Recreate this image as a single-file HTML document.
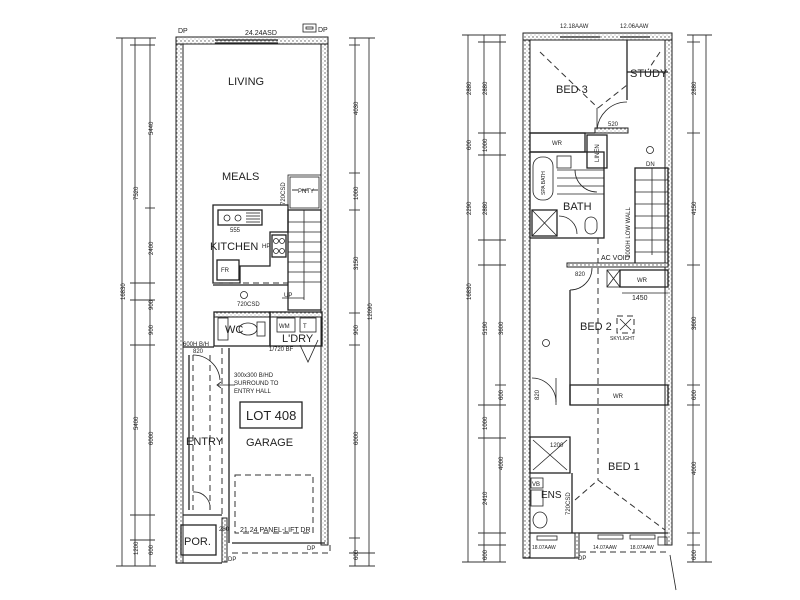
<!DOCTYPE html>
<html><head><meta charset="utf-8"><style>
html,body{margin:0;padding:0;background:#fff;}
svg{display:block;}
text{font-family:"Liberation Sans",sans-serif;fill:#222;}
.l{stroke:#222;stroke-width:1.3;fill:none;}
.t{stroke:#222;stroke-width:0.8;fill:none;}
.d{stroke:#333;stroke-width:1;fill:none;stroke-dasharray:6 4;}
.w{fill:#ddd;stroke:#222;stroke-width:1.2;}
.dim{stroke:#333;stroke-width:0.9;}
.s{font-size:6px;}
</style></head><body>
<svg width="800" height="600" viewBox="0 0 800 600" xmlns="http://www.w3.org/2000/svg">
<defs>
<pattern id="h" width="4" height="4" patternUnits="userSpaceOnUse">
<rect width="4" height="4" fill="#fff"/><circle cx="1" cy="1" r="0.7" fill="#555"/><circle cx="3" cy="3" r="0.5" fill="#888"/>
</pattern>
</defs>

<!-- ===== LEFT PLAN ===== -->
<!-- dimension lines -->
<g class="dim">
<line x1="122" y1="38" x2="122" y2="566"/><line x1="135" y1="38" x2="135" y2="566"/><line x1="150" y1="38" x2="150" y2="566"/>
<line x1="116" y1="38" x2="156" y2="38"/><line x1="116" y1="566" x2="156" y2="566"/>
<line x1="130" y1="45" x2="155" y2="45"/><line x1="145" y1="208" x2="155" y2="208"/>
<line x1="130" y1="283" x2="155" y2="283"/><line x1="130" y1="300" x2="155" y2="300"/><line x1="130" y1="345" x2="155" y2="345"/>
<line x1="130" y1="515" x2="155" y2="515"/><line x1="130" y1="540" x2="155" y2="540"/>
<line x1="355" y1="38" x2="355" y2="566"/><line x1="369" y1="38" x2="369" y2="566"/>
<line x1="349" y1="38" x2="375" y2="38"/><line x1="349" y1="566" x2="375" y2="566"/>
<line x1="349" y1="45" x2="360" y2="45"/><line x1="349" y1="173" x2="360" y2="173"/><line x1="349" y1="210" x2="360" y2="210"/>
<line x1="349" y1="313" x2="360" y2="313"/><line x1="349" y1="345" x2="360" y2="345"/><line x1="349" y1="538" x2="360" y2="538"/><line x1="349" y1="553" x2="375" y2="553"/>
</g>
<g font-size="6" fill="#333">
<text transform="translate(125,300) rotate(-90)">16830</text>
<text transform="translate(138,200) rotate(-90)">7520</text>
<text transform="translate(153,135) rotate(-90)">5440</text>
<text transform="translate(153,255) rotate(-90)">2400</text>
<text transform="translate(153,310) rotate(-90)">900</text>
<text transform="translate(153,335) rotate(-90)">900</text>
<text transform="translate(138,430) rotate(-90)">5400</text>
<text transform="translate(153,445) rotate(-90)">6000</text>
<text transform="translate(138,555) rotate(-90)">1200</text>
<text transform="translate(153,555) rotate(-90)">600</text>
<text transform="translate(358,115) rotate(-90)">4030</text>
<text transform="translate(358,200) rotate(-90)">1000</text>
<text transform="translate(358,270) rotate(-90)">3150</text>
<text transform="translate(372,320) rotate(-90)">12090</text>
<text transform="translate(358,335) rotate(-90)">900</text>
<text transform="translate(358,445) rotate(-90)">6000</text>
<text transform="translate(358,560) rotate(-90)">600</text>
</g>

<!-- walls -->
<rect x="176" y="37" width="7" height="526" fill="url(#h)" stroke="#222" stroke-width="1"/>
<rect x="321" y="37" width="7" height="508" fill="url(#h)" stroke="#222" stroke-width="1"/>
<rect x="176" y="37" width="152" height="7" fill="url(#h)" stroke="#222" stroke-width="1"/>
<line class="l" x1="215" y1="43" x2="278" y2="43"/><line class="l" x1="215" y1="40" x2="278" y2="40"/>
<rect x="303" y="24" width="13" height="8" class="t"/><rect x="306" y="27" width="7" height="2" class="t"/>
<text x="245" y="35" font-size="7">24.24ASD</text>
<text x="178" y="33" font-size="7">DP</text><text x="318" y="32" font-size="7">DP</text>
<!-- bottom -->
<line class="l" x1="176" y1="563" x2="222" y2="563"/>
<rect x="222" y="518" width="5" height="44" fill="url(#h)" stroke="#222"/>
<line class="l" x1="232" y1="543" x2="325" y2="543"/>
<line class="d" x1="232" y1="553" x2="330" y2="553"/><line class="d" x1="330" y1="545" x2="330" y2="553"/>
<text x="307" y="550" font-size="6">DP</text><text x="228" y="561" font-size="6">DP</text>

<!-- pantry -->
<rect x="288" y="175" width="33" height="35" class="t" fill="url(#h)"/>
<rect x="290" y="177" width="29" height="31" fill="#fff" class="t"/>
<line class="d" x1="292" y1="190" x2="318" y2="190"/>
<text x="298" y="193" font-size="6">PNTY</text>
<text transform="translate(285,205) rotate(-90)" font-size="6">720CSD</text>
<!-- kitchen -->
<path class="l" d="M213 205 H288 V232 H270 V266 H240 V283 H213 Z"/>
<rect x="218" y="210" width="44" height="15" class="l"/>
<circle cx="227" cy="218" r="3" class="t"/><circle cx="238" cy="218" r="3" class="t"/>
<g class="t"><line x1="246" y1="213" x2="260" y2="213"/><line x1="246" y1="216" x2="260" y2="216"/><line x1="246" y1="219" x2="260" y2="219"/><line x1="246" y1="222" x2="260" y2="222"/></g>
<text x="230" y="232" font-size="6">555</text>
<rect x="272" y="235" width="14" height="22" class="l"/>
<circle cx="276" cy="241" r="2.5" class="t"/><circle cx="282" cy="241" r="2.5" class="t"/><circle cx="276" cy="251" r="2.5" class="t"/><circle cx="282" cy="251" r="2.5" class="t"/>
<rect x="217" y="260" width="22" height="20" class="l"/><text x="221" y="272" font-size="6">FR</text>
<line class="d" x1="213" y1="283" x2="288" y2="283"/>
<line class="l" x1="213" y1="285" x2="288" y2="285"/>
<!-- stairs -->
<rect x="288" y="210" width="33" height="100" class="l"/>
<g class="t">
<line x1="288" y1="222" x2="321" y2="222"/><line x1="288" y1="232" x2="321" y2="232"/><line x1="288" y1="242" x2="321" y2="242"/>
<line x1="288" y1="252" x2="321" y2="252"/><line x1="288" y1="262" x2="321" y2="262"/><line x1="288" y1="272" x2="321" y2="272"/>
<line x1="288" y1="282" x2="321" y2="282"/><line x1="304" y1="210" x2="304" y2="300"/>
<line x1="282" y1="298" x2="304" y2="298"/>
</g>
<text x="284" y="297" font-size="6">UP</text>
<circle cx="244" cy="295" r="3.5" class="t"/>
<text x="237" y="306" font-size="6">720CSD</text>
<!-- WC / Laundry -->
<rect x="214" y="312" width="108" height="5" fill="url(#h)" stroke="#222"/>
<rect x="214" y="312" width="56" height="34" class="l"/>
<rect x="270" y="312" width="52" height="34" class="l"/>
<rect x="218" y="318" width="10" height="22" class="t"/>
<ellipse cx="248" cy="329" rx="9" ry="6" class="t"/><rect x="257" y="322" width="8" height="14" class="t"/>
<text x="225" y="333" font-size="11">WC</text>
<rect x="277" y="318" width="18" height="14" class="t"/><text x="279" y="328" font-size="6">WM</text>
<rect x="300" y="318" width="16" height="14" class="t"/><text x="303" y="328" font-size="6">T</text>
<text x="282" y="342" font-size="11">L'DRY</text>
<text x="269" y="351" font-size="6">1/720 BF</text>
<path class="t" d="M300 345 L308 362 L318 340"/>
<text x="183" y="346" font-size="6">600H B/H</text>
<line class="l" x1="183" y1="347" x2="214" y2="347"/>
<!-- entry -->
<line class="l" x1="189" y1="355" x2="189" y2="510"/>
<line class="d" x1="193" y1="355" x2="193" y2="510"/>
<line class="d" x1="210" y1="355" x2="210" y2="510"/>
<line class="d" x1="222" y1="348" x2="222" y2="518"/>
<line class="l" x1="229" y1="348" x2="229" y2="543"/>
<path class="t" d="M193 355 A27 27 0 0 1 220 380"/>
<path class="t" d="M193 492 A16 16 0 0 1 210 510"/>
<text x="193" y="353" font-size="6">820</text>
<text x="186" y="445" font-size="11">ENTRY</text>
<path class="t" d="M218 385 H235"/><path class="t" d="M221 382 L217 385 L221 388"/>
<text x="234" y="377" font-size="6">300x300 B/HD</text>
<text x="234" y="385" font-size="6">SURROUND TO</text>
<text x="234" y="393" font-size="6">ENTRY HALL</text>
<rect x="240" y="402" width="62" height="26" class="l"/>
<text x="246" y="420" font-size="13">LOT 408</text>
<text x="246" y="446" font-size="11">GARAGE</text>
<rect x="235" y="475" width="78" height="58" class="d"/>
<text x="240" y="532" font-size="7">21.24 PANEL-LIFT DR</text>
<text x="219" y="531" font-size="6">280</text>
<rect x="181" y="525" width="35" height="30" class="l"/>
<text x="184" y="545" font-size="11">POR.</text>
<line class="l" x1="183" y1="515" x2="222" y2="515"/>
<text x="228" y="85" font-size="11">LIVING</text>
<text x="222" y="180" font-size="11">MEALS</text>
<text x="210" y="250" font-size="11">KITCHEN</text><text x="262" y="248" font-size="6">HP</text>

<!-- ===== RIGHT PLAN ===== -->
<g class="dim">
<line x1="468" y1="35" x2="468" y2="562"/><line x1="484" y1="35" x2="484" y2="562"/><line x1="500" y1="35" x2="500" y2="562"/>
<line x1="462" y1="35" x2="506" y2="35"/><line x1="462" y1="562" x2="506" y2="562"/>
<line x1="478" y1="42" x2="506" y2="42"/><line x1="478" y1="133" x2="506" y2="133"/><line x1="478" y1="155" x2="506" y2="155"/>
<line x1="478" y1="240" x2="506" y2="240"/><line x1="478" y1="265" x2="506" y2="265"/><line x1="495" y1="385" x2="506" y2="385"/>
<line x1="478" y1="405" x2="506" y2="405"/><line x1="478" y1="438" x2="506" y2="438"/><line x1="478" y1="533" x2="506" y2="533"/><line x1="478" y1="545" x2="506" y2="545"/>
<line x1="693" y1="35" x2="693" y2="562"/><line x1="706" y1="35" x2="706" y2="562"/>
<line x1="687" y1="35" x2="712" y2="35"/><line x1="687" y1="562" x2="712" y2="562"/>
<line x1="687" y1="42" x2="700" y2="42"/><line x1="687" y1="133" x2="700" y2="133"/><line x1="687" y1="265" x2="700" y2="265"/>
<line x1="687" y1="385" x2="700" y2="385"/><line x1="687" y1="405" x2="700" y2="405"/><line x1="687" y1="533" x2="700" y2="533"/><line x1="687" y1="545" x2="700" y2="545"/>
</g>
<g font-size="6" fill="#333">
<text transform="translate(471,95) rotate(-90)">2880</text><text transform="translate(487,95) rotate(-90)">2880</text>
<text transform="translate(471,150) rotate(-90)">600</text><text transform="translate(487,152) rotate(-90)">1000</text>
<text transform="translate(471,215) rotate(-90)">2290</text><text transform="translate(487,215) rotate(-90)">2880</text>
<text transform="translate(471,300) rotate(-90)">16830</text><text transform="translate(487,335) rotate(-90)">5190</text>
<text transform="translate(503,335) rotate(-90)">3600</text><text transform="translate(503,400) rotate(-90)">600</text>
<text transform="translate(487,430) rotate(-90)">1000</text><text transform="translate(487,505) rotate(-90)">2410</text>
<text transform="translate(503,470) rotate(-90)">4000</text><text transform="translate(487,560) rotate(-90)">600</text>
<text transform="translate(696,95) rotate(-90)">2880</text><text transform="translate(696,215) rotate(-90)">4150</text>
<text transform="translate(696,330) rotate(-90)">3600</text><text transform="translate(696,400) rotate(-90)">600</text>
<text transform="translate(696,475) rotate(-90)">4000</text><text transform="translate(696,560) rotate(-90)">600</text>
</g>
<!-- walls -->
<rect x="523" y="33" width="7" height="525" fill="url(#h)" stroke="#222" stroke-width="1"/>
<rect x="665" y="33" width="7" height="512" fill="url(#h)" stroke="#222" stroke-width="1"/>
<rect x="523" y="33" width="149" height="7" fill="url(#h)" stroke="#222" stroke-width="1"/>
<line class="l" x1="560" y1="37" x2="600" y2="37"/><line class="l" x1="620" y1="37" x2="650" y2="37"/>
<text x="560" y="28" font-size="6">12.18AAW</text><text x="620" y="28" font-size="6">12.06AAW</text>
<!-- bed3 / study -->
<line class="l" x1="627" y1="40" x2="627" y2="100"/>
<line class="l" x1="627" y1="72" x2="668" y2="72"/>
<line class="d" x1="540" y1="52" x2="598" y2="108"/><line class="d" x1="598" y1="108" x2="627" y2="85"/>
<line class="d" x1="660" y1="52" x2="648" y2="70"/>
<path class="t" d="M597 132 A30 30 0 0 1 627 102"/><line class="t" x1="597" y1="108" x2="597" y2="132"/>
<text x="556" y="93" font-size="11">BED 3</text>
<text x="630" y="77" font-size="11">STUDY</text>
<rect x="595" y="128" width="33" height="5" fill="url(#h)" stroke="#222"/>
<text x="608" y="126" font-size="6">520</text>
<line class="l" x1="530" y1="133" x2="595" y2="133"/>
<rect x="530" y="133" width="55" height="19" class="l"/><text x="552" y="145" font-size="6">WR</text>
<rect x="587" y="135" width="20" height="33" class="l"/><text transform="translate(599,162) rotate(-90)" font-size="6">LINEN</text>
<!-- bath -->
<rect x="530" y="152" width="74" height="86" class="l"/>
<rect x="533" y="157" width="20" height="43" rx="9" class="t"/>
<text transform="translate(545,195) rotate(-90)" font-size="5">SPA BATH</text>
<rect x="557" y="156" width="14" height="12" class="t"/>
<line class="t" x1="557" y1="170" x2="604" y2="170"/><line class="t" x1="557" y1="178" x2="604" y2="178"/><line class="t" x1="557" y1="186" x2="604" y2="186"/><line class="t" x1="557" y1="194" x2="604" y2="194"/>
<path class="t" d="M575 170 A22 22 0 0 0 597 192"/>
<text x="563" y="210" font-size="11">BATH</text>
<rect x="532" y="210" width="25" height="26" class="l"/><line class="t" x1="532" y1="210" x2="557" y2="236"/><line class="t" x1="557" y1="210" x2="532" y2="236"/>
<path class="t" d="M559 216 A18 18 0 0 1 577 234"/>
<rect x="585" y="217" width="12" height="17" rx="6" class="t"/>
<!-- stairs -->
<rect x="635" y="168" width="33" height="97" class="l"/>
<g class="t"><line x1="635" y1="180" x2="668" y2="180"/><line x1="635" y1="192" x2="668" y2="192"/><line x1="635" y1="204" x2="668" y2="204"/><line x1="635" y1="216" x2="668" y2="216"/><line x1="635" y1="228" x2="668" y2="228"/><line x1="635" y1="240" x2="668" y2="240"/><line x1="635" y1="252" x2="668" y2="252"/><line x1="652" y1="168" x2="652" y2="255"/></g>
<text x="646" y="166" font-size="6">DN</text>
<circle cx="650" cy="150" r="3.5" class="t"/>
<text transform="translate(630,258) rotate(-90)" font-size="6">1000H LOW WALL</text>
<text x="601" y="260" font-size="7">AC VOID</text>
<line class="d" x1="598" y1="238" x2="598" y2="480"/>
<rect x="567" y="263" width="101" height="4" fill="url(#h)" stroke="#222"/>
<rect x="607" y="270" width="13" height="17" class="t"/><line class="t" x1="607" y1="270" x2="620" y2="287"/><line class="t" x1="620" y1="270" x2="607" y2="287"/>
<rect x="620" y="270" width="48" height="17" class="l"/><text x="637" y="282" font-size="6">WR</text>
<text x="575" y="276" font-size="6">820</text>
<path class="t" d="M570 290 A22 22 0 0 0 592 268"/>
<line class="t" x1="622" y1="293" x2="668" y2="293"/><text x="632" y="300" font-size="7">1450</text>
<!-- bed2 -->
<line class="l" x1="570" y1="290" x2="570" y2="405"/>
<rect x="570" y="385" width="98" height="20" class="l"/><text x="613" y="398" font-size="6">WR</text>
<text x="580" y="330" font-size="11">BED 2</text>
<rect x="617" y="316" width="17" height="17" class="d"/><line class="t" x1="620" y1="319" x2="631" y2="330"/><line class="t" x1="631" y1="319" x2="620" y2="330"/>
<text x="610" y="340" font-size="5">SKYLIGHT</text>
<circle cx="546" cy="343" r="3.5" class="t"/>
<path class="t" d="M532 378 A24 24 0 0 1 556 402"/><line class="t" x1="556" y1="378" x2="556" y2="405"/>
<text transform="translate(539,400) rotate(-90)" font-size="6">820</text>
<!-- bed1 / ens -->
<rect x="530" y="437" width="40" height="36" class="l"/><line class="t" x1="533" y1="440" x2="567" y2="470"/><line class="t" x1="567" y1="440" x2="533" y2="470"/>
<text x="550" y="447" font-size="6">1200</text>
<line class="l" x1="572" y1="473" x2="572" y2="533"/>
<rect x="531" y="478" width="12" height="10" class="t"/><text x="532" y="486" font-size="6">VB</text>
<rect x="531" y="490" width="12" height="16" class="t"/>
<ellipse cx="540" cy="520" rx="7" ry="8" class="t"/>
<text x="541" y="498" font-size="10">ENS</text>
<text transform="translate(570,515) rotate(-90)" font-size="6">720CSD</text>
<line class="d" x1="575" y1="500" x2="598" y2="480"/><line class="d" x1="598" y1="480" x2="665" y2="530"/>
<text x="608" y="470" font-size="11">BED 1</text>
<line class="l" x1="530" y1="533" x2="668" y2="533"/>
<line class="l" x1="523" y1="558" x2="575" y2="558"/>
<rect x="575" y="533" width="4" height="25" fill="url(#h)" stroke="#222"/>
<rect x="537" y="536" width="20" height="4" class="t"/><rect x="598" y="535" width="25" height="4" class="t"/><rect x="630" y="535" width="25" height="4" class="t"/>
<text x="532" y="549" font-size="5">18.07AAW</text><text x="593" y="549" font-size="5">14.07AAW</text><text x="630" y="549" font-size="5">18.07AAW</text>
<line class="d" x1="580" y1="552" x2="668" y2="552"/>
<rect x="658" y="537" width="9" height="8" class="t"/>
<text x="578" y="560" font-size="6">DP</text>
<line class="t" x1="670" y1="555" x2="676" y2="590"/>
</svg>
</body></html>
